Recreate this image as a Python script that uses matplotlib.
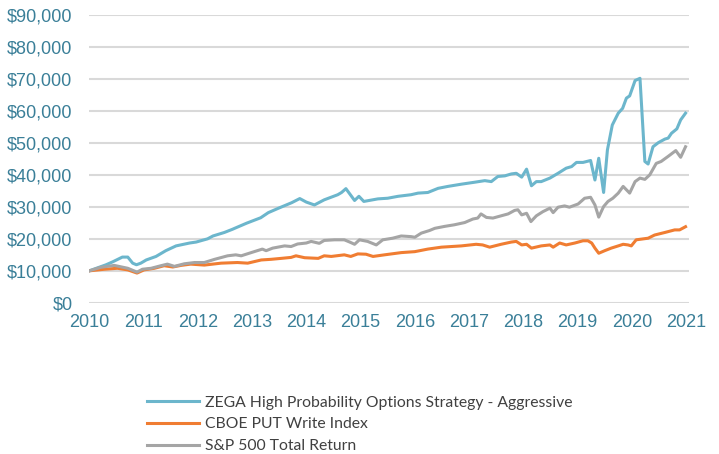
import matplotlib
matplotlib.use('Agg')
import matplotlib.pyplot as plt
from matplotlib.ticker import FuncFormatter

# dates as fractional years, values in dollars (growth of $10,000)
zega_dates = [2010.00, 2010.31, 2010.43, 2010.61, 2010.71, 2010.80, 2010.87, 2010.95, 2011.05, 2011.23,
              2011.41, 2011.60, 2011.85, 2011.97, 2012.18, 2012.28, 2012.49, 2012.64, 2012.68, 2012.90,
              2013.16, 2013.30, 2013.49, 2013.73, 2013.88, 2014.00, 2014.15, 2014.33, 2014.58, 2014.65,
              2014.73, 2014.89, 2014.97, 2015.06, 2015.32, 2015.50, 2015.69, 2015.93, 2016.06, 2016.24,
              2016.43, 2016.61, 2016.86, 2017.10, 2017.29, 2017.41, 2017.53, 2017.66, 2017.78, 2017.87,
              2017.97, 2018.06, 2018.15, 2018.24, 2018.33, 2018.49, 2018.64, 2018.79, 2018.89, 2018.98,
              2019.10, 2019.24, 2019.32, 2019.39, 2019.48, 2019.55, 2019.64, 2019.75, 2019.83, 2019.90,
              2019.96, 2020.06, 2020.15, 2020.24, 2020.30, 2020.39, 2020.49, 2020.61, 2020.67, 2020.73,
              2020.83, 2020.90, 2020.99]
zega_values = [10000, 11900, 12800, 14300, 14300, 12400, 11900, 12400, 13400, 14500,
               16300, 17800, 18700, 19000, 20000, 20900, 22000, 23000, 23300, 24900,
               26600, 28200, 29600, 31300, 32600, 31500, 30600, 32200, 33800, 34500,
               35700, 32000, 33300, 31700, 32500, 32700, 33300, 33800, 34300, 34500,
               35800, 36400, 37100, 37700, 38200, 37900, 39500, 39700, 40300, 40500,
               39300, 41800, 36600, 37900, 37900, 39000, 40500, 42100, 42600, 43900,
               43900, 44500, 38400, 45200, 34500, 47800, 55600, 59300, 60800, 64000,
               64700, 69500, 70200, 44200, 43400, 48800, 50100, 51200, 51500, 53000,
               54400, 57200, 59300]

put_dates = [2010.00, 2010.28, 2010.52, 2010.71, 2010.88, 2011.01, 2011.20, 2011.38, 2011.54, 2011.69,
             2011.87, 2012.12, 2012.43, 2012.73, 2012.92, 2013.17, 2013.35, 2013.54, 2013.72, 2013.81,
             2013.97, 2014.22, 2014.33, 2014.46, 2014.70, 2014.82, 2014.95, 2015.10, 2015.23, 2015.44,
             2015.75, 2016.00, 2016.24, 2016.49, 2016.86, 2017.13, 2017.25, 2017.38, 2017.59, 2017.78,
             2017.87, 2017.97, 2018.06, 2018.15, 2018.33, 2018.49, 2018.55, 2018.67, 2018.79, 2018.95,
             2019.10, 2019.19, 2019.26, 2019.32, 2019.39, 2019.50, 2019.62, 2019.75, 2019.84, 2019.93,
             2019.99, 2020.08, 2020.30, 2020.42, 2020.61, 2020.79, 2020.88, 2020.99]
put_values = [10000, 10500, 10800, 10300, 9300, 10300, 10800, 11600, 11200, 11700,
              12100, 11800, 12400, 12600, 12400, 13400, 13600, 13900, 14200, 14700,
              14100, 13900, 14700, 14500, 15000, 14500, 15300, 15200, 14500, 15000,
              15700, 16000, 16800, 17400, 17800, 18300, 18100, 17400, 18300, 19000,
              19200, 18100, 18300, 17100, 17800, 18100, 17400, 18700, 18100, 18700,
              19400, 19400, 18700, 17100, 15500, 16300, 17100, 17800, 18300, 18100,
              17800, 19700, 20200, 21200, 22000, 22800, 22800, 23800]

spx_dates = [2010.00, 2010.21, 2010.46, 2010.71, 2010.88, 2010.98, 2011.14, 2011.32, 2011.44, 2011.57,
             2011.75, 2011.94, 2012.12, 2012.31, 2012.55, 2012.70, 2012.80, 2013.04, 2013.19, 2013.26,
             2013.38, 2013.60, 2013.72, 2013.84, 2014.00, 2014.09, 2014.24, 2014.33, 2014.52, 2014.70,
             2014.80, 2014.89, 2014.98, 2015.13, 2015.29, 2015.41, 2015.59, 2015.75, 2015.93, 2016.00,
             2016.12, 2016.27, 2016.37, 2016.55, 2016.73, 2016.92, 2017.07, 2017.16, 2017.22, 2017.32,
             2017.44, 2017.59, 2017.72, 2017.84, 2017.90, 2017.97, 2018.06, 2018.14, 2018.24, 2018.36,
             2018.49, 2018.55, 2018.64, 2018.76, 2018.85, 2019.01, 2019.13, 2019.24, 2019.32, 2019.39,
             2019.48, 2019.56, 2019.65, 2019.75, 2019.84, 2019.96, 2020.06, 2020.15, 2020.24, 2020.33,
             2020.45, 2020.54, 2020.67, 2020.81, 2020.90, 2020.99]
spx_values = [10000, 11100, 11700, 10800, 9600, 10500, 10800, 11600, 12100, 11400,
              12200, 12600, 12600, 13600, 14700, 15000, 14700, 16000, 16800, 16300,
              17100, 17800, 17600, 18400, 18700, 19200, 18600, 19500, 19700, 19700,
              19000, 18300, 19700, 19200, 18100, 19700, 20200, 20900, 20700, 20500,
              21800, 22600, 23300, 23900, 24400, 25100, 26200, 26500, 27800, 26700,
              26500, 27200, 27800, 28900, 29100, 27500, 28000, 25400, 27200, 28500,
              29600, 28200, 29900, 30300, 29900, 30900, 32700, 33000, 30600, 26800,
              30100, 31700, 32700, 34300, 36400, 34300, 37900, 39000, 38600, 40000,
              43600, 44200, 45800, 47600, 45500, 48800]

series_labels = ["ZEGA High Probability Options Strategy - Aggressive",
                 "CBOE PUT Write Index",
                 "S&P 500 Total Return"]
year_ticks = list(range(2010, 2022))

tick_color = '#3a7f98'

fig = plt.figure(figsize=(7.19, 4.54), dpi=100)
ax = fig.add_axes([0.124, 0.333, 0.834, 0.634])

l1, = ax.plot(zega_dates, zega_values, color='#6cb6cc', lw=2.2)
l2, = ax.plot(put_dates, put_values, color='#f07d32', lw=2.2)
l3, = ax.plot(spx_dates, spx_values, color='#a5a5a5', lw=2.2)

ax.set_ylim(0, 90000)
ax.set_xlim(2009.998, 2021.05)
ax.set_yticks(range(0, 90001, 10000))
ax.set_xticks(year_ticks)
ax.yaxis.set_major_formatter(FuncFormatter(lambda v, p: "${:,.0f}".format(v)))
ax.grid(axis='y', color='#d9d9d9', lw=1.5)
ax.set_axisbelow(True)
for s in ax.spines.values():
    s.set_visible(False)
ax.tick_params(length=0, labelsize=13, labelcolor=tick_color, labelfontfamily='Liberation Sans')
ax.tick_params(axis='y', pad=12)
ax.tick_params(axis='x', pad=8)

fig.legend([l1, l2, l3], series_labels, loc='upper left', bbox_to_anchor=(0.2045, 0.1286),
           frameon=False, handlelength=3.3, handletextpad=0.4, labelspacing=0.49,
           borderaxespad=0, borderpad=0, labelcolor='#404040', prop={'family': 'Lato', 'size': 11.3})

fig.savefig('out.png', dpi=100)
